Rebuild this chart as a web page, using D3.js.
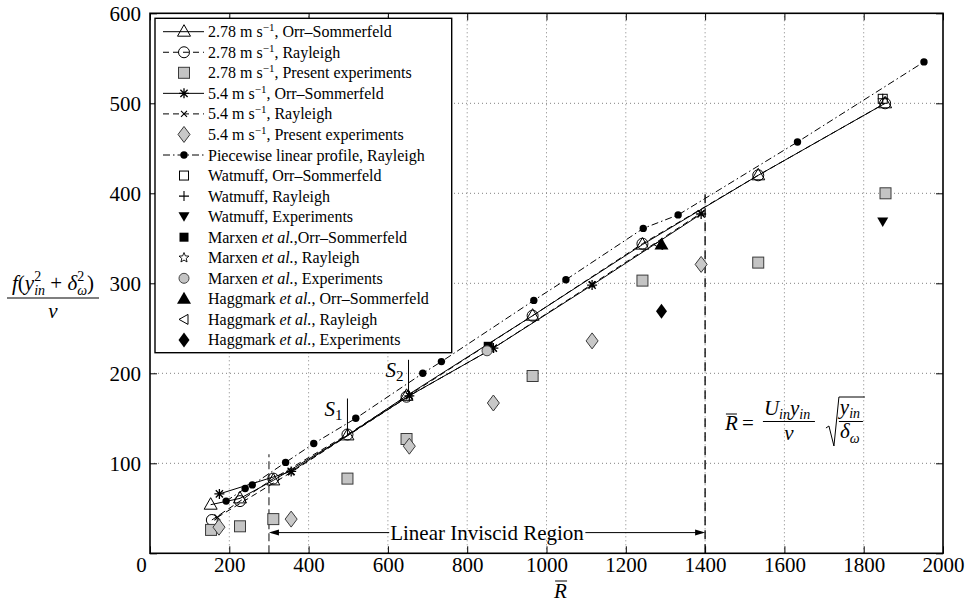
<!DOCTYPE html>
<html><head><meta charset="utf-8">
<script src="https://cdn.jsdelivr.net/npm/d3@7"></script>
<style>
body{margin:0;background:#fff}
svg{display:block}
svg text, svg tspan{font-family:"Liberation Serif","DejaVu Serif","Noto Serif",Times,serif !important;fill:#000}
</style>
</head><body>
<svg id="c" width="970" height="607" style="font-family:'Liberation Serif','DejaVu Serif',serif"></svg>
<script>
// ---------------- DATA ----------------
const xTickVals = [0,200,400,600,800,1000,1200,1400,1600,1800,2000];
const xTickLabels = ['0','200','400','600','800','1000','1200','1400','1600','1800','2000'];
const yTickVals = [0,100,200,300,400,500,600];
const yTickLabels = ['','100','200','300','400','500','600'];

// 2.78 m/s
const os278  = [[153,54],[227,61],[311,81],[498,131],[647,175],[965,264],[1242,343],[1534,420],[1854,500]];
const ray278 = [[156,37],[227,58],[311,83],[498,132],[647,174],[965,264],[1242,344],[1534,420],[1854,500]];
const exp278 = [[154,26],[227,30],[311,38],[498,83],[647,127],[965,197],[1242,303],[1534,323],[1855,400]];
// 5.4 m/s
const os54  = [[175,66],[356,91],[654,175],[866,228],[1115,298],[1390,377]];
const ray54 = [[170,40],[356,90],[654,175],[866,228],[1115,299],[1390,378]];
const exp54 = [[174,29],[356,38],[654,119],[866,167],[1115,236],[1390,321]];
// piecewise linear profile, Rayleigh
const piecewise = [[192,58],[240,72],[258,76],[342,101],[413,122],[519,150],[688,200],[735,213],[968,281],[1049,304],[1244,361],[1332,376],[1633,457],[1952,546]];
// literature
const watmuffOS = [[1848,505]];
const watmuffRay = [[1848,505]];
const watmuffExp = [[1848,368]];
const marxenOS = [[853,230]];
const marxenRay = [[860,228]];
const marxenExp = [[850,225]];
const haggOS = [[1290,343]];
const haggRay = [[1283,343]];
const haggExp = [[1290,269]];

const legendLabels = [
  [['2.78 m s'],['−1','sup'],[', Orr–Sommerfeld']],
  [['2.78 m s'],['−1','sup'],[', Rayleigh']],
  [['2.78 m s'],['−1','sup'],[', Present experiments']],
  [['5.4 m s'],['−1','sup'],[', Orr–Sommerfeld']],
  [['5.4 m s'],['−1','sup'],[', Rayleigh']],
  [['5.4 m s'],['−1','sup'],[', Present experiments']],
  [['Piecewise linear profile, Rayleigh']],
  [['Watmuff, Orr–Sommerfeld']],
  [['Watmuff, Rayleigh']],
  [['Watmuff, Experiments']],
  [['Marxen '],['et al.','it'],[',Orr–Sommerfeld']],
  [['Marxen '],['et al.','it'],[', Rayleigh']],
  [['Marxen '],['et al.','it'],[', Experiments']],
  [['Haggmark '],['et al.','it'],[', Orr–Sommerfeld']],
  [['Haggmark '],['et al.','it'],[', Rayleigh']],
  [['Haggmark '],['et al.','it'],[', Experiments']]
];

// ---------------- STYLE / SERIES ----------------
const series = [
  {data: os278, marker:'triOpen', dash:null},
  {data: ray278, marker:'circOpen', dash:'6,4'},
  {data: exp278, marker:'sqGray'},
  {data: os54, marker:'aster', dash:null},
  {data: ray54, marker:'xmark', dash:'6,4'},
  {data: exp54, marker:'diaGray'},
  {data: piecewise, marker:'dot', dash:'7,3,1.5,3'},
  {data: watmuffOS, marker:'sqOpen'},
  {data: watmuffRay, marker:'plus'},
  {data: watmuffExp, marker:'triDown'},
  {data: marxenOS, marker:'sqFill'},
  {data: marxenRay, marker:'star'},
  {data: marxenExp, marker:'circGray'},
  {data: haggOS, marker:'triFill'},
  {data: haggRay, marker:'triLeft'},
  {data: haggExp, marker:'diaFill'}
];

const SERIF = '"Liberation Serif","DejaVu Serif",serif';
const svg = d3.select('#c');
const x = d3.scaleLinear().domain([0,2000]).range([150,943]);
const y = d3.scaleLinear().domain([0,600]).range([553.3,13.3]);

function marker(g, type, cx, cy){
  const G = g.append('g').attr('transform',`translate(${cx},${cy})`);
  const p = d => G.append('path').attr('d',d);
  switch(type){
    case 'triOpen': p('M0,-7L6.5,4.5L-6.5,4.5Z').attr('fill','none').attr('stroke','#000').attr('stroke-width',1); break;
    case 'circOpen': G.append('circle').attr('r',5.5).attr('fill','none').attr('stroke','#000'); break;
    case 'sqGray': G.append('rect').attr('x',-5.5).attr('y',-5.5).attr('width',11).attr('height',11).attr('fill','#c4c4c4').attr('stroke','#3a3a3a'); break;
    case 'aster': p('M-5,0H5M0,-5V5M-3.6,-3.6L3.6,3.6M-3.6,3.6L3.6,-3.6').attr('stroke','#000').attr('stroke-width',1.3); break;
    case 'xmark': p('M-3,-3L3,3M-3,3L3,-3').attr('stroke','#000').attr('stroke-width',1.1); break;
    case 'dot': G.append('circle').attr('r',3.7).attr('fill','#000'); break;
    case 'diaGray': p('M0,-8L6,0L0,8L-6,0Z').attr('fill','#c8c8c8').attr('stroke','#3a3a3a'); break;
    case 'sqOpen': G.append('rect').attr('x',-4.5).attr('y',-4.5).attr('width',9).attr('height',9).attr('fill','none').attr('stroke','#000'); break;
    case 'plus': p('M-5,0H5M0,-5V5').attr('stroke','#000').attr('stroke-width',1.1); break;
    case 'triDown': p('M-5.5,-4.5L5.5,-4.5L0,5Z').attr('fill','#000'); break;
    case 'sqFill': G.append('rect').attr('x',-4.5).attr('y',-4.5).attr('width',9).attr('height',9).attr('fill','#000'); break;
    case 'star': {
      const pts=[]; for(let i=0;i<10;i++){const r=i%2?2.3:5.2; const a=-Math.PI/2+i*Math.PI/5; pts.push([r*Math.cos(a),r*Math.sin(a)]);}
      p('M'+pts.map(q=>q[0].toFixed(2)+','+q[1].toFixed(2)).join('L')+'Z').attr('fill','none').attr('stroke','#000').attr('stroke-width',0.9); break; }
    case 'circGray': G.append('circle').attr('r',5).attr('fill','#c4c4c4').attr('stroke','#444'); break;
    case 'triFill': p('M0,-7L7,5L-7,5Z').attr('fill','#000'); break;
    case 'triLeft': p('M-5,0L4,-5L4,5Z').attr('fill','none').attr('stroke','#000'); break;
    case 'diaFill': p('M0,-7.5L5.5,0L0,7.5L-5.5,0Z').attr('fill','#000'); break;
  }
}

// ---------------- GRID ----------------
const grid = svg.append('g').attr('stroke','#808080').attr('stroke-width',1).attr('stroke-dasharray','1,3');
xTickVals.filter(v=>v>0&&v<2000).forEach(v=>grid.append('line').attr('x1',x(v)).attr('x2',x(v)).attr('y1',y(0)).attr('y2',y(600)));
yTickVals.filter(v=>v>0&&v<600).forEach(v=>grid.append('line').attr('y1',y(v)).attr('y2',y(v)).attr('x1',x(0)).attr('x2',x(2000)));

// ---------------- AXES ----------------
const fmtX = d => xTickLabels[xTickVals.indexOf(d)];
const fmtY = d => yTickLabels[yTickVals.indexOf(d)];
const gB = svg.append('g').attr('transform',`translate(0,${y(0)})`).call(d3.axisBottom(x).tickValues(xTickVals).tickFormat(fmtX).tickSizeInner(-7).tickSizeOuter(0).tickPadding(4));
const gT = svg.append('g').attr('transform',`translate(0,${y(600)})`).call(d3.axisTop(x).tickValues(xTickVals).tickFormat('').tickSizeInner(-7).tickSizeOuter(0));
const gL = svg.append('g').attr('transform',`translate(${x(0)},0)`).call(d3.axisLeft(y).tickValues(yTickVals).tickFormat(fmtY).tickSizeInner(-7).tickSizeOuter(0).tickPadding(9));
const gR = svg.append('g').attr('transform',`translate(${x(2000)},0)`).call(d3.axisRight(y).tickValues(yTickVals).tickFormat('').tickSizeInner(-7).tickSizeOuter(0));
[gB,gT,gL,gR].forEach(g=>{
  g.attr('font-family',SERIF);
  g.select('.domain').remove();
  g.selectAll('line').attr('stroke','#000').attr('stroke-width',1);
  g.selectAll('text').attr('font-family',SERIF).attr('font-size',21).attr('fill','#000');
});
gB.selectAll('.tick').filter(d=>d===0).select('text').attr('x',-9);

// ---------------- ANNOTATION LINES ----------------
const ann = svg.append('g');
ann.append('line').attr('x1',x(300)).attr('x2',x(300)).attr('y1',y(0)).attr('y2',y(110)).attr('stroke','#444').attr('stroke-width',1.3).attr('stroke-dasharray','8,4');
ann.append('line').attr('x1',x(1400)).attr('x2',x(1400)).attr('y1',y(0)).attr('y2',y(400)).attr('stroke','#000').attr('stroke-width',1.3).attr('stroke-dasharray','9,5');

// ---------------- SERIES LINES ----------------
const line = d3.line().x(d=>x(d[0])).y(d=>y(d[1]));
const lg = svg.append('g');
series.forEach(s=>{
  if(s.dash===undefined) return;
  lg.append('path').attr('d',line(s.data)).attr('fill','none').attr('stroke','#000').attr('stroke-width',1)
    .attr('stroke-dasharray',s.dash);
});

// ---------------- MARKERS ----------------
const mg = svg.append('g');
series.forEach(s=>s.data.forEach(d=>marker(mg,s.marker,x(d[0]),y(d[1]))));

// ---------------- S1 / S2 ----------------
function sLabel(xp, yp, sub){
  const t = svg.append('text').attr('x',xp).attr('y',yp).attr('font-size',21).attr('font-style','italic');
  t.append('tspan').text('S');
  t.append('tspan').text(sub).attr('font-size',15).attr('font-style','normal').attr('dy',4);
}
svg.append('line').attr('x1',x(498)).attr('x2',x(498)).attr('y1',y(172)).attr('y2',y(131)).attr('stroke','#000');
svg.append('line').attr('x1',x(652)).attr('x2',x(652)).attr('y1',y(215)).attr('y2',y(175)).attr('stroke','#000');
sLabel(x(498)-23, y(172)+17, '1');
sLabel(x(652)-23, y(215)+17, '2');

// ---------------- LINEAR INVISCID REGION ----------------
const ay = y(23);
svg.append('line').attr('x1',x(300)+2).attr('x2',x(1400)-2).attr('y1',ay).attr('y2',ay).attr('stroke','#000');
svg.append('path').attr('d',`M${x(300)},${ay}l10,-3l0,6z`).attr('fill','#000');
svg.append('path').attr('d',`M${x(1400)},${ay}l-10,-3l0,6z`).attr('fill','#000');
const lt = svg.append('text').attr('x',x(850)).attr('y',ay+7).attr('text-anchor','middle').attr('font-size',21).text('Linear Inviscid Region');
const bb = lt.node().getBBox();
svg.insert('rect', () => lt.node()).attr('x',bb.x-1).attr('y',ay-3).attr('width',bb.width+2).attr('height',6).attr('fill','#fff');

// ---------------- FORMULA ----------------
(function(){
  const fx = x(1450), fy = y(137);
  const f = svg.append('g');
  f.append('text').attr('x',fx).attr('y',fy).attr('font-size',21).attr('font-style','italic').text('R');
  f.append('line').attr('x1',fx+1).attr('x2',fx+12).attr('y1',fy-16).attr('y2',fy-16).attr('stroke','#000').attr('stroke-width',1);
  f.append('text').attr('x',fx+17).attr('y',fy).attr('font-size',21).text('=');
  const n = f.append('text').attr('x',fx+39).attr('y',fy-15).attr('font-size',21).attr('font-style','italic');
  n.append('tspan').text('U');
  n.append('tspan').text('in').attr('font-size',14).attr('dy',4);
  n.append('tspan').text('y').attr('dy',-4);
  n.append('tspan').text('in').attr('font-size',14).attr('dy',4);
  f.append('line').attr('x1',fx+38).attr('x2',fx+90).attr('y1',fy-8.5).attr('y2',fy-8.5).attr('stroke','#000');
  f.append('text').attr('x',fx+64).attr('y',fy+10).attr('text-anchor','middle').attr('font-size',21).attr('font-style','italic').text('ν');
  f.append('path').attr('d',`M${fx+101},${fy-2}l3,-2l5,20l5,-49h26`).attr('fill','none').attr('stroke','#000').attr('stroke-width',1);
  const n2 = f.append('text').attr('x',fx+125).attr('y',fy-16).attr('text-anchor','middle').attr('font-size',21).attr('font-style','italic');
  n2.append('tspan').text('y');
  n2.append('tspan').text('in').attr('font-size',14).attr('dy',4);
  f.append('line').attr('x1',fx+114).attr('x2',fx+138).attr('y1',fy-8.5).attr('y2',fy-8.5).attr('stroke','#000');
  const d2 = f.append('text').attr('x',fx+125).attr('y',fy+8).attr('text-anchor','middle').attr('font-size',21).attr('font-style','italic');
  d2.append('tspan').text('δ');
  d2.append('tspan').text('ω').attr('font-size',14).attr('dy',5);
})();

// ---------------- AXIS TITLES ----------------
(function(){
  const t = svg.append('text').attr('x',53).attr('y',290).attr('text-anchor','middle').attr('font-size',21).attr('font-style','italic');
  t.append('tspan').text('f');
  t.append('tspan').text('(').attr('font-style','normal');
  t.append('tspan').text('y');
  t.append('tspan').text('2').attr('font-size',14).attr('font-style','normal').attr('dy',-9);
  t.append('tspan').text('in').attr('font-size',14).attr('dx',-7).attr('dy',14);
  t.append('tspan').text(' + ').attr('font-style','normal').attr('dy',-5);
  t.append('tspan').text('δ');
  t.append('tspan').text('2').attr('font-size',14).attr('font-style','normal').attr('dy',-9);
  t.append('tspan').text('ω').attr('font-size',14).attr('dx',-7).attr('dy',14);
  t.append('tspan').text(')').attr('font-style','normal').attr('dy',-5);
  svg.append('line').attr('x1',7).attr('x2',99).attr('y1',298).attr('y2',298).attr('stroke','#000').attr('stroke-width',1.1);
  svg.append('text').attr('x',53).attr('y',318).attr('text-anchor','middle').attr('font-size',21).attr('font-style','italic').text('ν');

  const xl = svg.append('text').attr('x',x(1000)+14).attr('y',598).attr('text-anchor','middle').attr('font-size',21).attr('font-style','italic').text('R');
  const b = xl.node().getBBox();
  svg.append('line').attr('x1',b.x+2).attr('x2',b.x+b.width).attr('y1',581).attr('y2',581).attr('stroke','#000');
})();

// ---------------- LEGEND ----------------
(function(){
  const L = svg.append('g');
  L.append('rect').attr('x',155).attr('y',18.3).attr('width',296.7).attr('height',334.4).attr('fill','#fff').attr('stroke','#000').attr('stroke-width',1.4);
  legendLabels.forEach((lab,i)=>{
    const cy = 31.7 + i*20.55;
    const s = series[i];
    if(s.dash!==undefined){
      L.append('line').attr('x1',163).attr('x2',204).attr('y1',cy).attr('y2',cy).attr('stroke','#000').attr('stroke-width',1).attr('stroke-dasharray',s.dash);
    }
    marker(L, s.marker, 184, cy);
    const t = L.append('text').attr('x',208).attr('y',cy+5.5).attr('font-size',16);
    let up = false;
    lab.forEach(seg=>{
      const ts = t.append('tspan').text(seg[0]);
      if(seg[1]==='sup'){ ts.attr('font-size',11).attr('dy',-6); }
      else {
        if(seg[1]==='it') ts.attr('font-style','italic');
        if(up) ts.attr('dy',6);
      }
      up = seg[1]==='sup';
    });
  });
})();

// ---------------- FRAME ----------------
svg.append('rect').attr('x',x(0)).attr('y',y(600)).attr('width',x(2000)-x(0)).attr('height',y(0)-y(600)).attr('fill','none').attr('stroke','#000').attr('stroke-width',1.6);
</script>
</body></html>
